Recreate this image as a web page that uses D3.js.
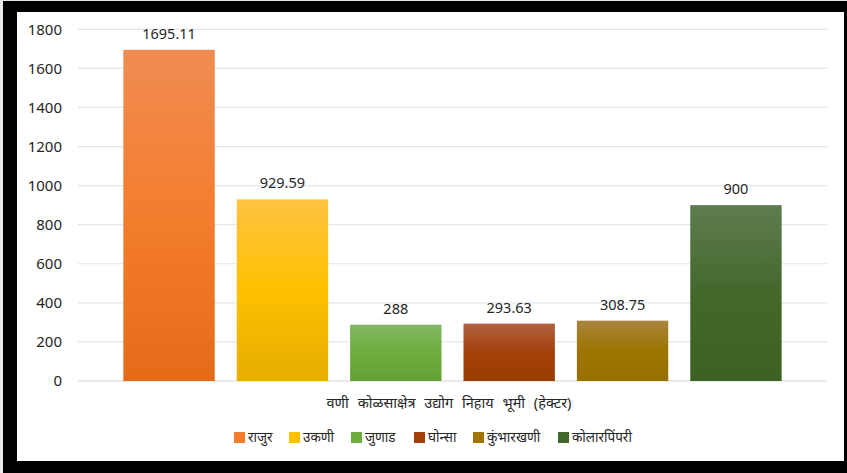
<!DOCTYPE html>
<html>
<head>
<meta charset="utf-8">
<script src="https://cdn.jsdelivr.net/npm/d3@7"></script>
<style>
html,body{margin:0;padding:0;background:#fff;}
svg{display:block;}
text{font-family:"Noto Sans","Noto Sans Devanagari","Liberation Sans",sans-serif;}
</style>
</head>
<body>
<svg id="chart" width="847" height="473"></svg>
<script>
const categories = ["राजुर", "उकणी", "जुणाड", "घोन्सा", "कुंभारखणी", "कोलारपिंपरी"];
const values = [1695.11, 929.59, 288, 293.63, 308.75, 900];
const valueLabels = ["1695.11", "929.59", "288", "293.63", "308.75", "900"];
const yTicks = [0, 200, 400, 600, 800, 1000, 1200, 1400, 1600, 1800];
const axisTitle = "वणी कोळसाक्षेत्र उद्योग निहाय भूमी (हेक्टर)";
const baseColors = ["#F47D2E", "#FFC000", "#6DAD3E", "#A3400A", "#9D7500", "#43682B"];
const topColors = ["#F08C52", "#FFC342", "#80B762", "#AE6142", "#A8843C", "#5E7C4E"];
const bottomColors = ["#E46B18", "#E6AD00", "#62A135", "#9A3D02", "#977000", "#3C6223"];

const svg = d3.select("#chart");
const W = 847, H = 473;

// outer frame
svg.append("rect").attr("x",0).attr("y",0).attr("width",W).attr("height",H).attr("fill","#e8e8e8");
svg.append("rect").attr("x",3).attr("y",1).attr("width",844).attr("height",472).attr("fill","#000");
svg.append("rect").attr("x",17).attr("y",12).attr("width",827).attr("height",449).attr("fill","#fff");

const defs = svg.append("defs");
categories.forEach((c,i)=>{
  const g = defs.append("linearGradient").attr("id","grad"+i)
    .attr("x1","0").attr("y1","0").attr("x2","0").attr("y2","1");
  g.append("stop").attr("offset","0%").attr("stop-color",topColors[i]);
  g.append("stop").attr("offset","50%").attr("stop-color",baseColors[i]);
  g.append("stop").attr("offset","100%").attr("stop-color",bottomColors[i]);
});

const x = d3.scaleBand().domain(categories).range([78, 827]).paddingInner(0.194).paddingOuter(0.40);
const y = d3.scaleLinear().domain([0, 1800]).range([381, 29.3]);

// gridlines
svg.append("g").selectAll("line").data(yTicks).join("line")
  .attr("x1",78).attr("x2",827)
  .attr("y1",d=>y(d)).attr("y2",d=>y(d))
  .attr("stroke",d=>d===0?"#d6d6d6":"#e2e6ec").attr("stroke-width",1.2);

// y axis labels
const yAxis = d3.axisLeft(y).tickValues(yTicks).tickSize(0).tickPadding(0).tickFormat(d3.format("d"));
const yg = svg.append("g").attr("transform","translate(62,0)").call(yAxis);
yg.select(".domain").remove();
yg.selectAll("text").attr("font-size",15).attr("fill","#262626")
  .style("font-family",'"Noto Sans","Liberation Sans",sans-serif');

// bars
svg.append("g").selectAll("rect").data(values).join("rect")
  .attr("x",(d,i)=>x(categories[i]))
  .attr("width",x.bandwidth())
  .attr("y",d=>y(d))
  .attr("height",d=>y(0)-y(d))
  .attr("fill",(d,i)=>`url(#grad${i})`);

// value labels
svg.append("g").selectAll("text").data(values).join("text")
  .attr("x",(d,i)=>x(categories[i])+x.bandwidth()/2)
  .attr("y",d=>y(d)-11)
  .attr("text-anchor","middle")
  .attr("font-size",14.5)
  .attr("fill","#262626")
  .text((d,i)=>valueLabels[i]);

// axis title
svg.append("text").attr("x",449).attr("y",408).attr("text-anchor","middle")
  .attr("font-size",14.5).attr("fill","#262626").attr("word-spacing",5).text(axisTitle);

// legend
const legendX = [234, 289, 351, 414, 473, 558];
const lg = svg.append("g");
categories.forEach((c,i)=>{
  lg.append("rect").attr("x",legendX[i]).attr("y",432).attr("width",11).attr("height",11)
    .attr("fill",baseColors[i]);
  lg.append("text").attr("x",legendX[i]+14).attr("y",442).attr("font-size",13.5)
    .attr("fill","#262626").text(c);
});
</script>
</body>
</html>
